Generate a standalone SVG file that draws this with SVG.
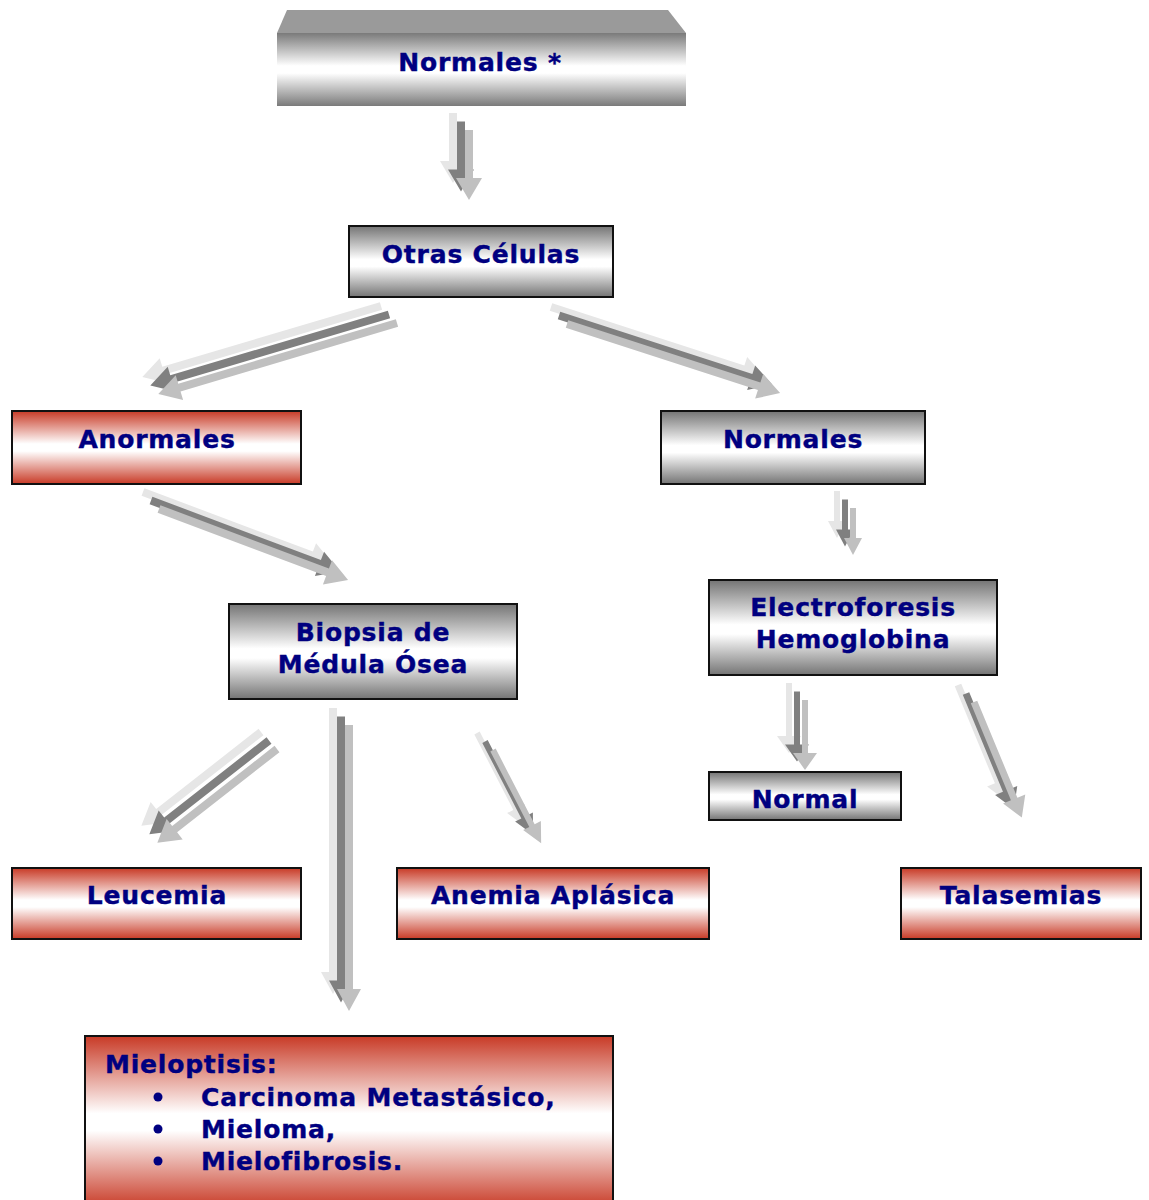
<svg xmlns="http://www.w3.org/2000/svg" xmlns:xlink="http://www.w3.org/1999/xlink" width="1149" height="1200" viewBox="0 0 1149 1200">
  <style>
    .lbl { font-family: "DejaVu Sans", Verdana, sans-serif; font-weight: bold; font-size: 25px; letter-spacing: 0.8px; fill: #000080; stroke: #000080; stroke-width: 0.4px; }
    .mid { text-anchor: middle; }
    .gray { fill: url(#gGray); stroke: #111; stroke-width: 2; }
    .red { fill: url(#gRed); stroke: #111; stroke-width: 2; }
    .a1 { fill: #e6e6e6; }
    .a2 { fill: #808080; }
    .a3 { fill: #c0c0c0; }
  </style>
  <defs>
    <linearGradient id="gGray" x1="0" y1="0" x2="0" y2="1">
      <stop offset="0" stop-color="#747474"/>
      <stop offset="0.47" stop-color="#ffffff"/>
      <stop offset="0.57" stop-color="#ffffff"/>
      <stop offset="1" stop-color="#747474"/>
    </linearGradient>
    <linearGradient id="gRed" x1="0" y1="0" x2="0" y2="1">
      <stop offset="0" stop-color="#c83a26"/>
      <stop offset="0.45" stop-color="#ffffff"/>
      <stop offset="0.55" stop-color="#ffffff"/>
      <stop offset="1" stop-color="#c83a26"/>
    </linearGradient>
    <linearGradient id="gTop" x1="0" y1="0" x2="0" y2="1">
      <stop offset="0" stop-color="#7a7a7a"/>
      <stop offset="0.45" stop-color="#ffffff"/>
      <stop offset="0.55" stop-color="#ffffff"/>
      <stop offset="1" stop-color="#7a7a7a"/>
    </linearGradient>
    <!-- arrow outlines: shaft along +x, tip at x = L -->
    <path id="arrA" transform="translate(453,113) rotate(90)" d="M0,-4 H48 V-13 L70,0 L48,13 V4 H0 Z"/>
    <path id="arrB" transform="translate(381,306) rotate(163.45)" d="M0,-4 H227 V-13 L249,0 L227,13 V4 H0 Z"/>
    <path id="arrC" transform="translate(551,307) rotate(17.95)" d="M0,-4 H202 V-13 L224,0 L202,13 V4 H0 Z"/>
    <path id="arrD" transform="translate(143,492) rotate(20.59)" d="M0,-4 H180 V-13 L202,0 L180,13 V4 H0 Z"/>
    <path id="arrE" transform="translate(837,491) rotate(90)" d="M0,-3 H30 V-9 L47,0 L30,9 V3 H0 Z"/>
    <path id="arrF" transform="translate(789,683) rotate(90)" d="M0,-3 H53 V-12 L70,0 L53,12 V3 H0 Z"/>
    <path id="arrG" transform="translate(958,685) rotate(67.5)" d="M0,-3.5 H105 V-12 L125,0 L105,12 V3.5 H0 Z"/>
    <path id="arrH" transform="translate(261,732) rotate(141.93)" d="M0,-4 H130 V-13 L152,0 L130,13 V4 H0 Z"/>
    <path id="arrI" transform="translate(333,708) rotate(90)" d="M0,-4 H264 V-12 L286,0 L264,12 V4 H0 Z"/>
    <path id="arrJ" transform="translate(477,733) rotate(62.7)" d="M0,-3 H85 V-10 L105,0 L85,10 V3 H0 Z"/>
  </defs>

  <rect width="1149" height="1200" fill="#ffffff"/>

  <!-- connectors: each drawn as three stacked, offset layers -->
  <g id="connectors">
    <g id="c-normales-otras"><use href="#arrA" class="a1"/><use href="#arrA" class="a2" x="8" y="8.5"/><use href="#arrA" class="a3" x="16" y="17"/></g>
    <g id="c-otras-anormales"><use href="#arrB" class="a1"/><use href="#arrB" class="a2" x="8" y="8.5"/><use href="#arrB" class="a3" x="16" y="17"/></g>
    <g id="c-otras-normales"><use href="#arrC" class="a1"/><use href="#arrC" class="a2" x="8" y="8.5"/><use href="#arrC" class="a3" x="16" y="17"/></g>
    <g id="c-anormales-biopsia"><use href="#arrD" class="a1"/><use href="#arrD" class="a2" x="8" y="8.5"/><use href="#arrD" class="a3" x="16" y="17"/></g>
    <g id="c-normales-electro"><use href="#arrE" class="a1"/><use href="#arrE" class="a2" x="8" y="8.5"/><use href="#arrE" class="a3" x="16" y="17"/></g>
    <g id="c-electro-normal"><use href="#arrF" class="a1"/><use href="#arrF" class="a2" x="8" y="8.5"/><use href="#arrF" class="a3" x="16" y="17"/></g>
    <g id="c-electro-talasemias"><use href="#arrG" class="a1"/><use href="#arrG" class="a2" x="8" y="8.5"/><use href="#arrG" class="a3" x="16" y="17"/></g>
    <g id="c-biopsia-leucemia"><use href="#arrH" class="a1"/><use href="#arrH" class="a2" x="8" y="8.5"/><use href="#arrH" class="a3" x="16" y="17"/></g>
    <g id="c-biopsia-mieloptisis"><use href="#arrI" class="a1"/><use href="#arrI" class="a2" x="8" y="8.5"/><use href="#arrI" class="a3" x="16" y="17"/></g>
    <g id="c-biopsia-anemia"><use href="#arrJ" class="a1"/><use href="#arrJ" class="a2" x="8" y="8.5"/><use href="#arrJ" class="a3" x="16" y="17"/></g>
  </g>

  <!-- nodes -->
  <g id="n-normales-top">
    <polygon points="287,10 668,10 686,33 277,33" fill="#9a9a9a"/>
    <rect x="277" y="33" width="409" height="73" fill="url(#gTop)"/>
    <text class="lbl mid" x="480" y="71">Normales *</text>
  </g>
  <g id="n-otras">
    <rect class="gray" x="349" y="226" width="264" height="71"/>
    <text class="lbl mid" x="481" y="263">Otras Células</text>
  </g>
  <g id="n-anormales">
    <rect class="red" x="12" y="411" width="289" height="73"/>
    <text class="lbl mid" x="157" y="448">Anormales</text>
  </g>
  <g id="n-normales">
    <rect class="gray" x="661" y="411" width="264" height="73"/>
    <text class="lbl mid" x="793" y="448">Normales</text>
  </g>
  <g id="n-biopsia">
    <rect class="gray" x="229" y="604" width="288" height="95"/>
    <text class="lbl mid" x="373" y="641">Biopsia de</text>
    <text class="lbl mid" x="373" y="673">Médula Ósea</text>
  </g>
  <g id="n-electroforesis">
    <rect class="gray" x="709" y="580" width="288" height="95"/>
    <text class="lbl mid" x="853" y="616">Electroforesis</text>
    <text class="lbl mid" x="853" y="648">Hemoglobina</text>
  </g>
  <g id="n-normal">
    <rect class="gray" x="709" y="772" width="192" height="48"/>
    <text class="lbl mid" x="805" y="808">Normal</text>
  </g>
  <g id="n-leucemia">
    <rect class="red" x="12" y="868" width="289" height="71"/>
    <text class="lbl mid" x="157" y="904">Leucemia</text>
  </g>
  <g id="n-anemia">
    <rect class="red" x="397" y="868" width="312" height="71"/>
    <text class="lbl mid" x="553" y="904">Anemia Aplásica</text>
  </g>
  <g id="n-talasemias">
    <rect class="red" x="901" y="868" width="240" height="71"/>
    <text class="lbl mid" x="1021" y="904">Talasemias</text>
  </g>
  <g id="n-mieloptisis">
    <rect class="red" x="85" y="1036" width="528" height="172"/>
    <text class="lbl" x="105" y="1073">Mieloptisis:</text>
    <circle cx="158" cy="1097" r="4.5" fill="#000080"/>
    <circle cx="158" cy="1129" r="4.5" fill="#000080"/>
    <circle cx="158" cy="1161" r="4.5" fill="#000080"/>
    <text class="lbl" x="201" y="1106">Carcinoma Metastásico,</text>
    <text class="lbl" x="201" y="1138">Mieloma,</text>
    <text class="lbl" x="201" y="1170">Mielofibrosis.</text>
  </g>
</svg>
